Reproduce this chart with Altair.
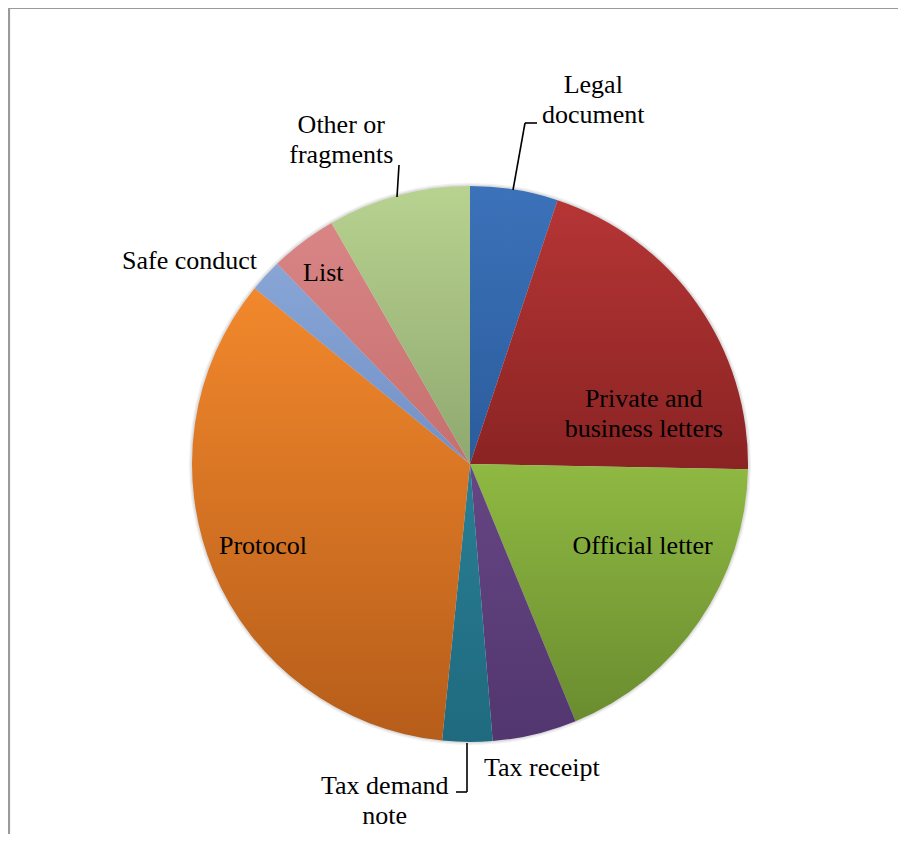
import altair as alt
import pandas as pd

# ---- data (share of documents, %) ----
categories = ["Legal document", "Private and business letters", "Official letter",
              "Tax receipt", "Tax demand note", "Protocol", "Safe conduct", "List",
              "Other or fragments"]
values = [5.1, 20.2, 18.5, 4.9, 2.9, 34.3, 1.9, 3.9, 8.3]
labels = ["Legal\ndocument", "Private and\nbusiness letters", "Official letter",
          "Tax receipt", "Tax demand\nnote", "Protocol", "Safe conduct", "List",
          "Other or\nfragments"]

# ---- styles ----
top_colors = ["#3C72BA", "#B63535", "#8FB942", "#664684", "#2A7E94", "#F2882C",
              "#88A5D6", "#DA8585", "#B8D290"]
bottom_colors = ["#2B5C9C", "#8A2323", "#6A8C2F", "#52366F", "#1F6A7F", "#B65D1A",
                 "#7391C6", "#C56F6F", "#8FA86F"]
# label placement: (radius, dx, dy) relative to slice mid-angle
label_pos = [(384, 62, 0), (181, 26, 40), (191, 15, -26), (312, -1, 1),
             (348, -82, -26), (223, -1, -3), (346, -26, 31), (241, -2, 2),
             (348, -39, -3)]

W, H = 850, 740
PADL, PADT = 37, 86
R = 278

df = pd.DataFrame({"category": categories, "value": values, "label": labels,
                   "order": list(range(len(categories)))})

base = alt.Chart(df).encode(
    theta=alt.Theta("value:Q", stack=True),
    order=alt.Order("order:Q"),
)

layers = []
# subtle shadow halo
layers.append(base.mark_arc(radius=R + 3, fill="#000000", fillOpacity=0.06))
layers.append(base.mark_arc(radius=R + 1.5, fill="#000000", fillOpacity=0.08))

for i, c in enumerate(categories):
    grad = {"gradient": "linear", "x1": 0, "y1": 0, "x2": 0, "y2": 1,
            "stops": [{"offset": 0, "color": top_colors[i]},
                      {"offset": 1, "color": bottom_colors[i]}]}
    layers.append(
        base.mark_arc(radius=R).encode(
            fill=alt.condition(f"datum.category === '{c}'", alt.value(grad),
                               alt.value("transparent"))
        )
    )

for i, c in enumerate(categories):
    r, dx, dy = label_pos[i]
    layers.append(
        base.transform_calculate(
            t=f"datum.category === '{c}' ? datum.label : ''"
        ).mark_text(
            radius=r, dx=dx, dy=dy, font="Liberation Serif", fontSize=26,
            lineBreak="\n", lineHeight=30, align="center", baseline="middle",
            color="#000000"
        ).encode(text="t:N")
    )

dummy = pd.DataFrame({"k": [0]})


def seg(x1, y1, x2, y2, color="#000000", w=1.6):
    return alt.Chart(dummy).mark_rule(color=color, strokeWidth=w).encode(
        x=alt.value(x1), y=alt.value(y1), x2=alt.value(x2), y2=alt.value(y2))


# leader lines (plot coordinates)
layers += [
    seg(468, 96, 480, 29), seg(480, 29, 492, 29),
    seg(352, 103, 354, 71),
    seg(422, 649, 422, 698), seg(422, 698, 411, 698),
]
# chart-area frame (left and top edges)
layers += [
    seg(-36, -PADT, -36, H, color="#9A9A9A", w=2.2),
    seg(-PADL, -86, W + 10, -86, color="#9A9A9A", w=2.2),
]

chart = alt.layer(*layers).properties(
    width=W, height=H,
    padding={"left": PADL, "top": PADT, "right": 3, "bottom": 0},
    autosize=alt.AutoSizeParams(type="none"),
).configure_view(stroke=None)

chart.save("out.html", embed_options={"renderer": "svg", "actions": False})
